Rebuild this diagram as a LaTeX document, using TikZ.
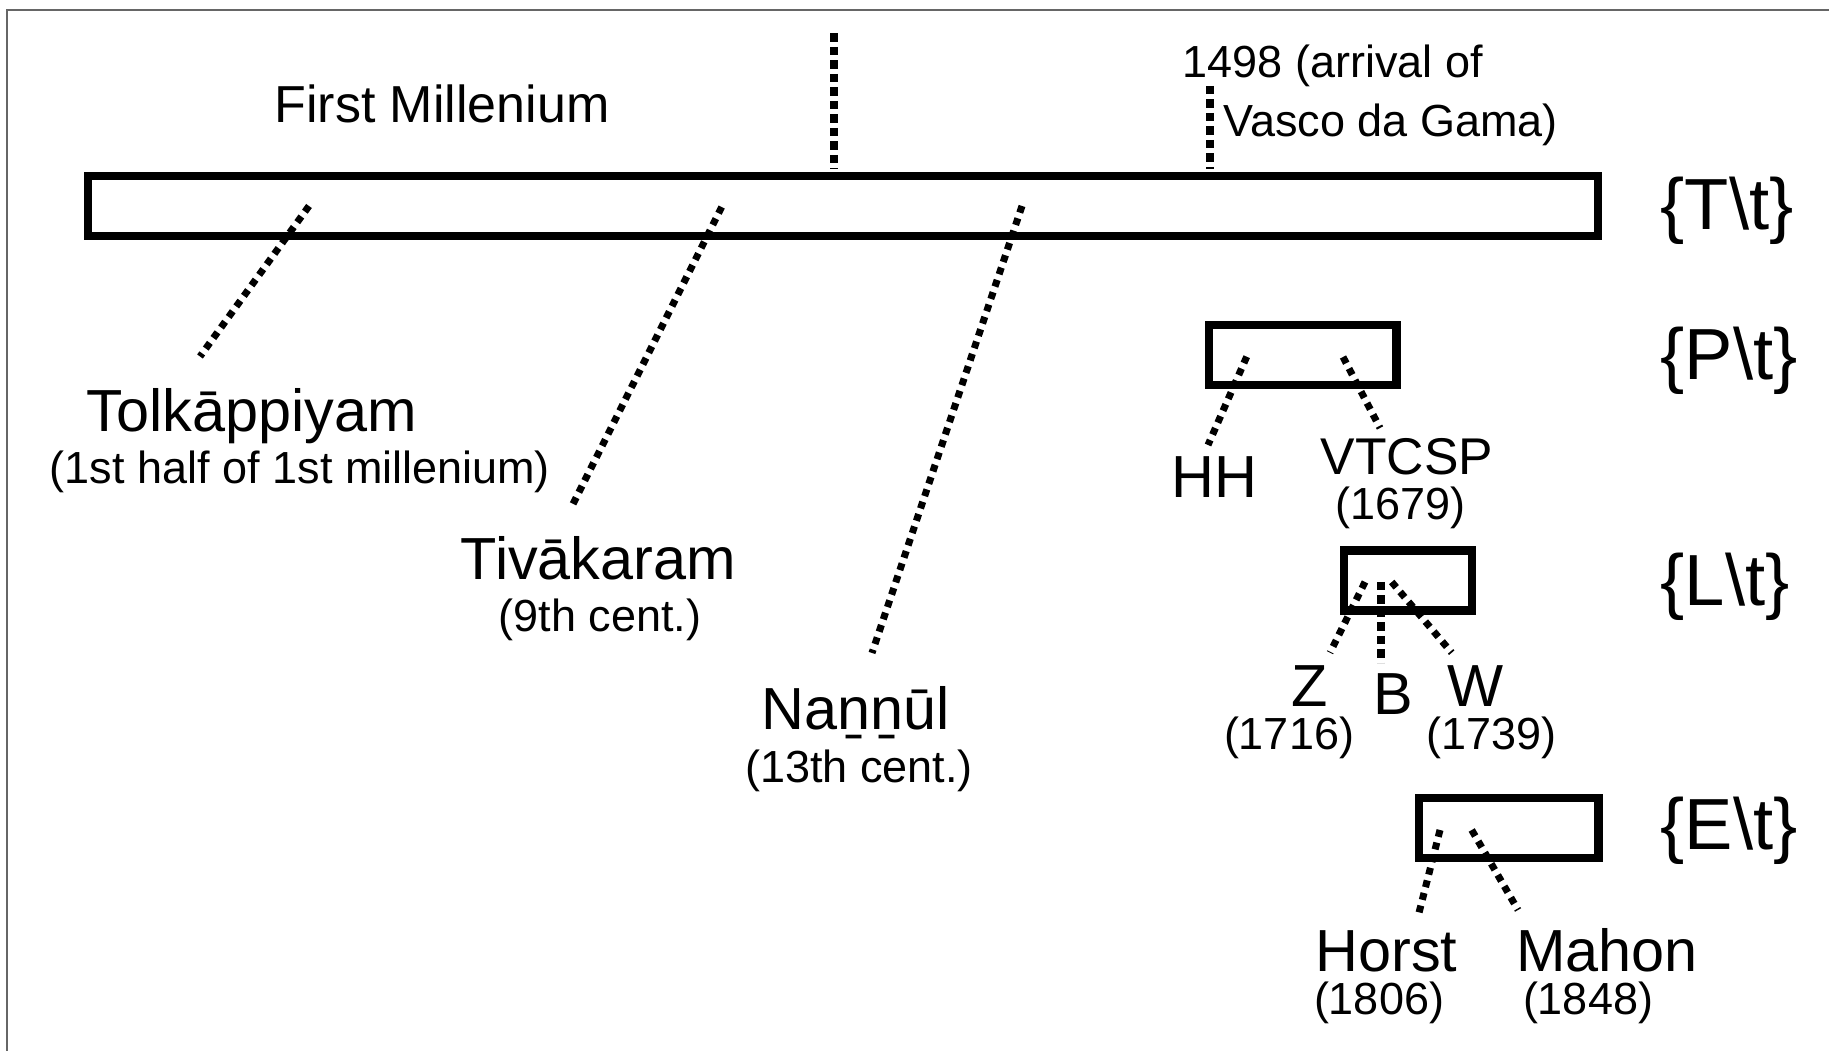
\documentclass[tikz,border=0pt]{standalone}
\usepackage{fontspec}
\setmainfont{Liberation Sans}

\begin{document}
\begin{tikzpicture}[x=0.1mm, y=-0.1mm]
    \tikzstyle{periodbox}=[draw, line width=0.85mm, inner sep=0pt, minimum height=6mm]
    \tikzstyle{dotline}=[line width=0.7mm, dash pattern=on 0.7mm off 0.6mm]
    \tikzstyle{tickline}=[line width=0.8mm, dash pattern=on 0.85mm off 0.5mm]
    \tikzstyle{worklabel}=[inner sep=0pt, anchor=base, font=\fontsize{16.9}{20}\selectfont]
    \tikzstyle{datelabel}=[inner sep=0pt, anchor=base, font=\fontsize{12.8}{15}\selectfont]
    \tikzstyle{langlabel}=[inner sep=0pt, anchor=base west, font=\fontsize{20.6}{25}\selectfont]

    \useasboundingbox (0,0) rectangle (1829,1051);
    \draw[black!60, line width=0.2mm] (7,1051) |- (1829,10);

    % Draw the period boxes
    \node[periodbox, minimum width=151mm]   (T) at (843,205.8)  {};
    \node[periodbox, minimum width=18.75mm] (P) at (1302.8,355) {};
    \node[periodbox, minimum width=12.8mm]  (L) at (1408,580.5) {};
    \node[periodbox, minimum width=17.95mm] (E) at (1508.8,828) {};

    % Label the periods on the right
    \foreach \name / \y in {T/230, P/380, L/606, E/849.3}
    \node[langlabel] (lab-\name) at (1660,\y) {\{\name\textbackslash t\}};

    % Annotate the time line
    \node[inner sep=0pt, anchor=base, font=\fontsize{14.8}{18}\selectfont] (mill) at (442,123) {First Millenium};
    \node[datelabel, anchor=base west] (gama1) at (1182,77.7) {1498 (arrival of};
    \node[datelabel, anchor=base west] (gama2) at (1223,137) {Vasco da Gama)};
    \coordinate (tick1-a) at (834,33.5);
    \coordinate (tick1-b) at (834,169);
    \coordinate (tick2-a) at (1210,86);
    \coordinate (tick2-b) at (1210,169);
    \draw[tickline] (tick1-a) -- (tick1-b);
    \draw[tickline] (tick2-a) -- (tick2-b);

    % Draw the works with their dates
    \node[worklabel] (tolk) at (252,432) {Tolkāppiyam};
    \node[datelabel] (tolk-d) at (300,484) {(1st half of 1st millenium)};
    \node[worklabel] (tiva) at (598.5,580) {Tivākaram};
    \node[datelabel] (tiva-d) at (600,632) {(9th cent.)};
    \node[worklabel] (nann) at (855.5,730) {Naṉṉūl};
    \node[datelabel] (nann-d) at (859,782) {(13th cent.)};
    \node[worklabel] (hh) at (1214,498) {HH};
    \node[worklabel, font=\fontsize{14.7}{17}\selectfont] (vtcsp) at (1407,475) {VTCSP};
    \node[datelabel] (vtcsp-d) at (1400.5,520) {(1679)};
    \node[worklabel] (z) at (1310,706.7) {Z};
    \node[datelabel] (z-d) at (1289,750) {(1716)};
    \node[worklabel] (b) at (1393,714) {B};
    \node[worklabel] (w) at (1476,706.7) {W};
    \node[datelabel] (w-d) at (1491.5,750) {(1739)};
    \node[worklabel] (horst) at (1386.5,971) {Horst};
    \node[datelabel] (horst-d) at (1379,1014) {(1806)};
    \node[worklabel] (mahon) at (1607,971) {Mahon};
    \node[datelabel] (mahon-d) at (1588,1014) {(1848)};

    % Connect every box with its works
    \foreach \name / \xa / \ya / \xb / \yb in {tolk/309/206/200/356.5, tiva/721.7/207/573/504,
        nann/1022/206/872/653, hh/1246.7/356.7/1208/445, vtcsp/1343/357/1380/428,
        z/1365/582/1330/652.7, w/1391.7/582/1451.7/652.7,
        horst/1440/830/1418/916.7, mahon/1471.7/830/1518/910}
    {
        \coordinate (\name-a) at (\xa,\ya);
        \coordinate (\name-b) at (\xb,\yb);
        \draw[dotline] (\name-a) -- (\name-b);
    }
    \coordinate (b-a) at (1380.7,582);
    \coordinate (b-b) at (1380.7,663);
    \draw[tickline] (b-a) -- (b-b);
\end{tikzpicture}
\end{document}
